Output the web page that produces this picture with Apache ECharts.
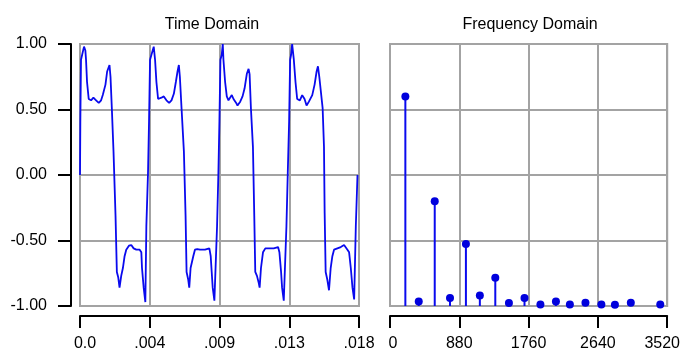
<!DOCTYPE html>
<html><head><meta charset="utf-8">
<script src="https://cdn.jsdelivr.net/npm/echarts@6/dist/echarts.min.js"></script>
<style>html,body{margin:0;padding:0;background:#fff}#c{width:683px;height:354px}</style>
</head><body><div id="c"></div>
<script>
// Time domain samples (time in milliseconds, amplitude)
const timeMs = [
  0.000,0.022,0.065,0.151,0.259,0.346,0.389,0.454,0.562,0.714,0.865,1.038,1.211,1.362,1.470,1.643,1.751,1.838,1.903,1.968,2.054,2.162,2.292,2.378,2.465,2.551,2.659,2.768,2.876,2.984,3.157,3.308,3.460,3.632,3.849,3.957,4.000,4.108,4.216,4.281,4.389,
  4.454,4.519,4.627,4.757,4.843,4.930,5.038,5.254,5.406,5.578,5.751,5.903,6.054,6.184,6.292,6.378,6.443,6.551,6.703,6.811,6.876,6.984,7.049,7.135,7.308,7.416,7.568,7.741,8.065,8.346,8.433,8.497,8.562,8.670,8.779,8.843,8.930,
  8.995,9.060,9.146,9.211,9.254,9.362,9.470,9.579,9.687,9.795,9.903,10.076,10.162,10.335,10.487,10.616,10.768,10.876,10.941,11.027,11.157,11.243,11.308,11.416,11.525,11.589,11.676,11.806,11.957,12.173,12.498,12.779,12.865,12.973,13.038,13.146,13.254,13.319,13.406,
  13.492,13.557,13.622,13.687,13.795,13.903,14.011,14.184,14.335,14.487,14.617,14.768,14.984,15.135,15.265,15.352,15.438,15.654,15.741,15.784,15.849,15.957,16.065,16.173,16.281,16.390,16.606,16.822,17.038,17.254,17.362,17.471,17.579,17.687,17.795,17.903
];
const amplitude = [
  0.00,0.41,0.88,0.89,0.98,0.95,0.88,0.71,0.58,0.57,0.59,0.57,0.55,0.57,0.61,0.69,0.79,0.80,0.84,0.75,0.51,0.18,-0.31,-0.74,-0.78,-0.86,-0.77,-0.71,-0.62,-0.57,-0.54,-0.535,-0.56,-0.57,-0.57,-0.59,-0.71,-0.86,-0.97,-0.39,0.02,
  0.41,0.88,0.89,0.98,0.88,0.71,0.58,0.59,0.60,0.57,0.55,0.57,0.62,0.71,0.79,0.84,0.75,0.51,0.18,-0.31,-0.74,-0.80,-0.86,-0.71,-0.62,-0.57,-0.565,-0.57,-0.57,-0.56,-0.62,-0.74,-0.86,-0.96,-0.96,-0.39,0.02,
  0.41,0.88,0.92,1.00,0.88,0.71,0.60,0.57,0.57,0.61,0.58,0.55,0.53,0.56,0.60,0.66,0.775,0.81,0.77,0.51,0.215,-0.31,-0.74,-0.77,-0.82,-0.86,-0.71,-0.59,-0.56,-0.56,-0.56,-0.55,-0.59,-0.74,-0.86,-0.96,-0.97,-0.39,0.02,
  0.41,0.88,0.92,1.00,0.88,0.71,0.58,0.57,0.61,0.58,0.53,0.56,0.61,0.69,0.79,0.83,0.75,0.51,0.215,-0.29,-0.74,-0.80,-0.88,-0.71,-0.62,-0.57,-0.56,-0.55,-0.535,-0.57,-0.59,-0.71,-0.86,-0.95,-0.39,0.00
];
// Frequency domain (Hz, magnitude)
const freqHz = [195,365,568,762,964,1141,1337,1510,1708,1910,2107,2284,2482,2684,2856,3058,3432];
const magnitude = [0.80,0.017,0.40,0.031,0.237,0.040,0.108,0.011,0.031,0.006,0.017,0.006,0.012,0.006,0.005,0.012,0.006];

const timeTickLabels = ['0.0','.004','.009','.013','.018'];
const ampTickLabels = ['-1.00','-0.50','0.00','0.50','1.00'];
const freqTickLabels = ['0','880','1760','2640','3520'];

const FONT = 'Liberation Sans, Arial, sans-serif';
const FS = 16;
const GRIDC = '#a3a3a3';
const BLUE = '#0a0aee';

const timeData = timeMs.map((t, i) => [t / 1000, amplitude[i]]);
const freqData = freqHz.map((f, i) => [f, magnitude[i]]);

const chart = echarts.init(document.getElementById('c'), null, {renderer: 'canvas'});

function baseX(gi, min, max, interval, labels, firstPad, lastPad) {
  return {
    type: 'value', gridIndex: gi, min: min, max: max, interval: interval, offset: 10,
    axisLine: {show: true, onZero: false, lineStyle: {color: '#000', width: 2}},
    axisTick: {show: true, length: 12, lineStyle: {color: '#000', width: 2}},
    splitLine: {show: true, lineStyle: {color: GRIDC, width: 2}},
    axisLabel: {
      margin: 20, color: '#000', fontSize: FS, fontFamily: FONT,
      formatter: function (v) {
        const i = Math.round((v - min) / interval);
        if (i === 0 && firstPad) return '{f|' + labels[i] + '}';
        if (i === labels.length - 1 && lastPad) return '{l|' + labels[i] + '}';
        return labels[i];
      },
      rich: {
        f: {fontSize: FS, fontFamily: FONT, color: '#000', padding: [0, 0, 0, firstPad || 0]},
        l: {fontSize: FS, fontFamily: FONT, color: '#000', padding: [0, lastPad || 0, 0, 0]}
      }
    }
  };
}

const option = {
  animation: false,
  backgroundColor: '#fff',
  title: [
    {text: 'Time Domain', left: 207, top: 12, textAlign: 'center',
     textStyle: {fontSize: FS, fontWeight: 'normal', color: '#000', fontFamily: FONT}},
    {text: 'Frequency Domain', left: 525, top: 12, textAlign: 'center',
     textStyle: {fontSize: FS, fontWeight: 'normal', color: '#000', fontFamily: FONT}}
  ],
  grid: [
    {left: 80, top: 44, width: 279, height: 262, show: true, borderColor: GRIDC, borderWidth: 2, backgroundColor: '#fff'},
    {left: 390, top: 44, width: 279, height: 262, show: true, borderColor: GRIDC, borderWidth: 2, backgroundColor: '#fff'}
  ],
  xAxis: [
    baseX(0, 0, 0.018, 0.0045, timeTickLabels, 10, 0),
    baseX(1, 0, 3520, 880, freqTickLabels, 6, 10)
  ],
  yAxis: [
    {
      type: 'value', gridIndex: 0, min: -1, max: 1, interval: 0.5, offset: 9,
      axisLine: {show: true, onZero: false, lineStyle: {color: '#000', width: 2}},
      axisTick: {show: true, length: 13, lineStyle: {color: '#000', width: 2}},
      splitLine: {show: true, lineStyle: {color: GRIDC, width: 2}},
      axisLabel: {margin: 24, color: '#000', fontSize: FS, fontFamily: FONT,
        formatter: function (v) { return ampTickLabels[Math.round((v + 1) / 0.5)]; }}
    },
    {
      type: 'value', gridIndex: 1, min: 0, max: 1, interval: 0.25,
      axisLine: {show: false, onZero: false}, axisTick: {show: false}, axisLabel: {show: false},
      splitLine: {show: true, lineStyle: {color: GRIDC, width: 2}}
    }
  ],
  series: [
    {type: 'line', xAxisIndex: 0, yAxisIndex: 0, data: timeData, showSymbol: false,
     lineStyle: {color: BLUE, width: 1.8}, clip: true},
    {type: 'bar', xAxisIndex: 1, yAxisIndex: 1, data: freqData, barWidth: 2,
     itemStyle: {color: BLUE, opacity: 1}},
    {type: 'scatter', xAxisIndex: 1, yAxisIndex: 1, data: freqData, symbol: 'circle', symbolSize: 8,
     itemStyle: {color: '#0000dd', opacity: 1}}
  ]
};
chart.setOption(option);
</script>
</body></html>
